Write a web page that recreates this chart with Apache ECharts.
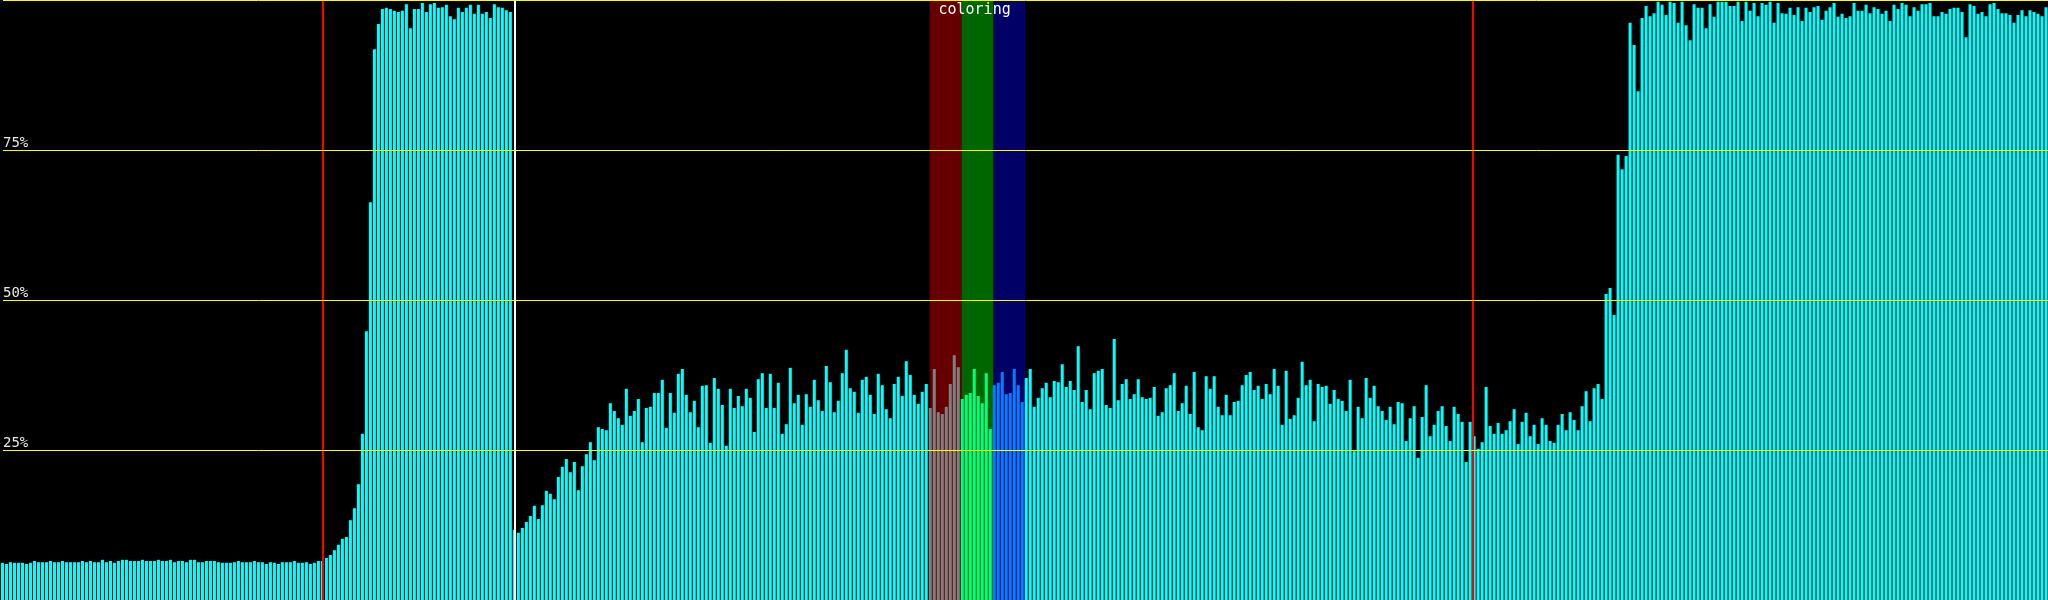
<!DOCTYPE html>
<html><head><meta charset="utf-8">
<style>html,body{margin:0;padding:0;background:#000;overflow:hidden}#c{width:2048px;height:600px}</style>
<script src="https://cdn.jsdelivr.net/npm/echarts@6/dist/echarts.min.js"></script>
</head><body><div id="c"></div>
<script>
// bar values in percent, 512 bins
const values = [
6.2,6.0,6.3,6.2,6.2,6.2,6.0,6.2,6.5,6.3, 6.3,6.3,6.5,6.3,6.3,6.5,6.3,6.3,6.3,6.3,
6.5,6.3,6.5,6.3,6.3,6.7,6.3,6.5,6.2,6.5, 6.7,6.7,6.5,6.5,6.5,6.7,6.5,6.5,6.5,6.7,
6.5,6.5,6.7,6.3,6.5,6.5,6.3,6.7,6.7,6.3, 6.3,6.5,6.5,6.5,6.3,6.2,6.2,6.2,6.3,6.5,
6.3,6.3,6.3,6.5,6.3,6.3,6.0,6.3,6.2,6.0, 6.3,6.3,6.3,6.5,6.2,6.2,6.3,6.0,6.2,6.5,
6.5,7.0,7.5,8.3,9.2,10.2,10.5,13.3,15.3,19.3, 27.7,44.8,66.3,91.8,96.0,98.5,98.7,98.5,98.2,98.0,
98.2,99.3,95.3,98.5,98.5,99.5,98.0,99.3,99.5,98.7, 98.8,99.2,97.3,96.8,98.7,98.0,98.7,99.2,97.7,99.2,
97.7,98.0,97.0,99.3,98.8,98.7,98.3,98.0,11.7,11.2, 12.0,13.0,14.0,15.7,13.5,15.8,18.2,17.7,16.8,20.5,
22.2,23.5,21.3,23.0,18.3,22.3,24.3,26.3,23.3,28.8, 28.5,28.3,32.8,31.5,30.3,29.2,35.2,30.7,31.5,33.5,
26.3,32.0,32.2,34.5,34.5,36.7,28.7,34.5,31.2,37.7, 38.5,34.2,31.3,33.2,28.8,35.7,35.8,26.2,37.0,35.2,
32.5,25.7,35.2,32.0,34.0,32.3,35.2,33.7,28.0,36.8, 37.8,32.0,37.7,32.0,36.2,27.7,29.3,38.7,32.8,34.2,
29.2,34.3,32.2,36.7,33.3,31.5,39.0,36.3,31.3,33.2, 37.8,41.7,35.3,34.7,31.2,36.7,37.2,34.2,31.0,37.7,
35.8,31.8,30.3,36.0,37.2,34.0,39.8,37.5,34.2,32.7, 34.7,36.0,32.0,38.5,31.3,31.0,32.2,36.0,40.8,38.8,
33.5,34.2,34.5,38.5,34.0,32.8,37.8,28.5,35.8,36.2, 38.0,34.3,34.5,38.5,35.8,33.0,37.0,38.5,32.2,33.7,
35.3,36.2,33.8,36.5,36.3,39.3,35.5,36.5,35.0,42.3, 33.0,35.0,31.8,37.8,38.2,38.5,32.5,32.0,43.5,33.3,
36.0,36.8,33.5,34.3,36.8,33.8,33.5,33.7,35.5,30.7, 31.3,35.3,35.8,37.8,31.5,32.8,35.7,31.0,38.0,28.8,
28.3,37.3,35.2,37.3,32.2,30.8,34.2,30.8,33.0,33.2, 35.8,37.5,38.0,35.0,35.7,33.5,36.0,34.3,38.5,35.7,
29.2,38.2,30.2,30.8,33.7,39.7,35.8,36.7,29.8,36.0, 35.5,35.7,32.7,35.0,33.5,33.2,31.5,36.7,24.8,32.2,
30.3,37.0,33.7,35.7,32.3,31.5,30.0,32.2,29.3,33.0, 32.8,26.5,30.3,32.3,23.7,30.5,35.8,27.3,29.2,31.5,
32.3,29.0,26.5,32.2,31.0,29.7,23.0,29.7,27.3,25.2, 26.3,35.5,29.0,27.7,29.5,27.7,28.3,29.8,31.8,26.0,
29.7,31.2,27.3,29.2,26.0,30.3,29.2,26.5,26.2,29.2, 31.0,28.3,31.3,30.0,28.3,32.3,34.8,29.8,35.3,36.0,
33.5,51.0,52.0,47.5,74.2,71.8,74.0,96.2,92.5,84.8,
97.0,99.0,97.3,97.8,99.7,99.2,97.5,99.7,99.5,96.2, 99.7,95.8,93.3,99.3,98.7,98.7,95.3,99.3,97.2,99.7,
99.7,99.7,99.0,99.0,99.7,96.5,99.7,98.2,99.5,97.3, 99.5,99.2,99.7,96.2,99.5,97.8,97.7,98.7,97.5,98.8,
96.5,98.7,98.0,98.8,99.0,96.7,98.2,98.8,99.5,97.2, 97.7,97.0,97.3,99.5,98.2,98.2,99.2,97.8,98.8,98.5,
97.7,98.2,96.5,99.2,98.5,99.5,99.2,97.3,98.8,98.2, 99.3,99.3,99.5,97.3,97.3,98.0,97.7,98.5,98.7,98.7,
98.0,93.8,99.3,99.0,97.7,98.0,97.3,99.3,99.5,98.5, 97.8,97.8,97.5,96.2,97.5,98.3,97.3,98.3,98.0,97.7,
97.3,98.8
];
const categories = values.map((_, i) => i);
// boundaries (bin index) of the vertical marker lines
const markers = [80, 128, 368];
const markerKinds = ['red', 'white', 'red'];
// highlighted bin ranges [from, to)
const bands = [[232, 240], [240, 248], [248, 256]];
const bandLabel = 'coloring';
const tickValues = [25, 50, 75];
const tickLabels = ['25%', '50%', '75%'];

const markerColor = { red: '#ff0000', white: '#ffffff' };
const bandBg = ['#660000', '#006600', '#000066'];
const bandBar = ['#808080', '#00ff80', '#0080ff'];
const barColor = '#00ffff';

function colorFor(i) {
  for (let b = 0; b < bands.length; b++) {
    if (i >= bands[b][0] && i < bands[b][1]) return bandBar[b];
  }
  return barColor;
}

const chart = echarts.init(document.getElementById('c'), null, { renderer: 'canvas' });
chart.setOption({
  animation: false,
  backgroundColor: '#000000',
  grid: [
    { left: 0.5, right: -0.5, top: 0, bottom: 0 },
    { left: 0, right: 0, top: 0, bottom: 0 }
  ],
  xAxis: [
    { type: 'category', gridIndex: 0, data: categories, show: false, boundaryGap: true },
    { type: 'value', gridIndex: 1, min: 0, max: values.length, show: false }
  ],
  yAxis: [
    { type: 'value', gridIndex: 0, min: 0, max: 100, show: false },
    {
      type: 'value', gridIndex: 1, min: 0, max: 100, interval: 25, z: 10,
      axisLine: { show: false }, axisTick: { show: false },
      splitLine: { show: true, lineStyle: { color: '#ffff00', width: 1 } },
      axisLabel: {
        inside: true, margin: 0, verticalAlign: 'bottom', align: 'left',
        color: '#e8e8e8', fontFamily: 'DejaVu Sans Mono', fontSize: 14,
        formatter: v => { const k = tickValues.indexOf(v); return k >= 0 ? tickLabels[k] : ''; }
      }
    }
  ],
  series: [
    {
      type: 'line', xAxisIndex: 1, yAxisIndex: 1, data: [], z: 1, silent: true,
      markArea: {
        silent: true,
        data: bands.map((b, k) => [
          { xAxis: b[0], itemStyle: { color: bandBg[k], opacity: 1 },
            label: k === 1 ? { show: true, formatter: bandLabel, position: 'insideTop', distance: 3, offset: [-3, 0],
              color: '#ffffff', fontFamily: 'DejaVu Sans Mono', fontSize: 15, overflow: 'none' } : { show: false } },
          { xAxis: b[1] }
        ])
      }
    },
    {
      type: 'bar', xAxisIndex: 0, yAxisIndex: 0, z: 2, silent: true,
      barWidth: 3,
      data: values.map((v, i) => ({ value: v, itemStyle: { color: colorFor(i) } }))
    },
    {
      type: 'line', xAxisIndex: 1, yAxisIndex: 1, data: [], z: 5, silent: true,
      markLine: {
        silent: true, symbol: ['none', 'none'], label: { show: false },
        data: markers.map((m, k) => ({ xAxis: m, lineStyle: { color: markerColor[markerKinds[k]], width: 2, type: 'solid' } }))
      }
    }
  ]
});
</script>
</body></html>
